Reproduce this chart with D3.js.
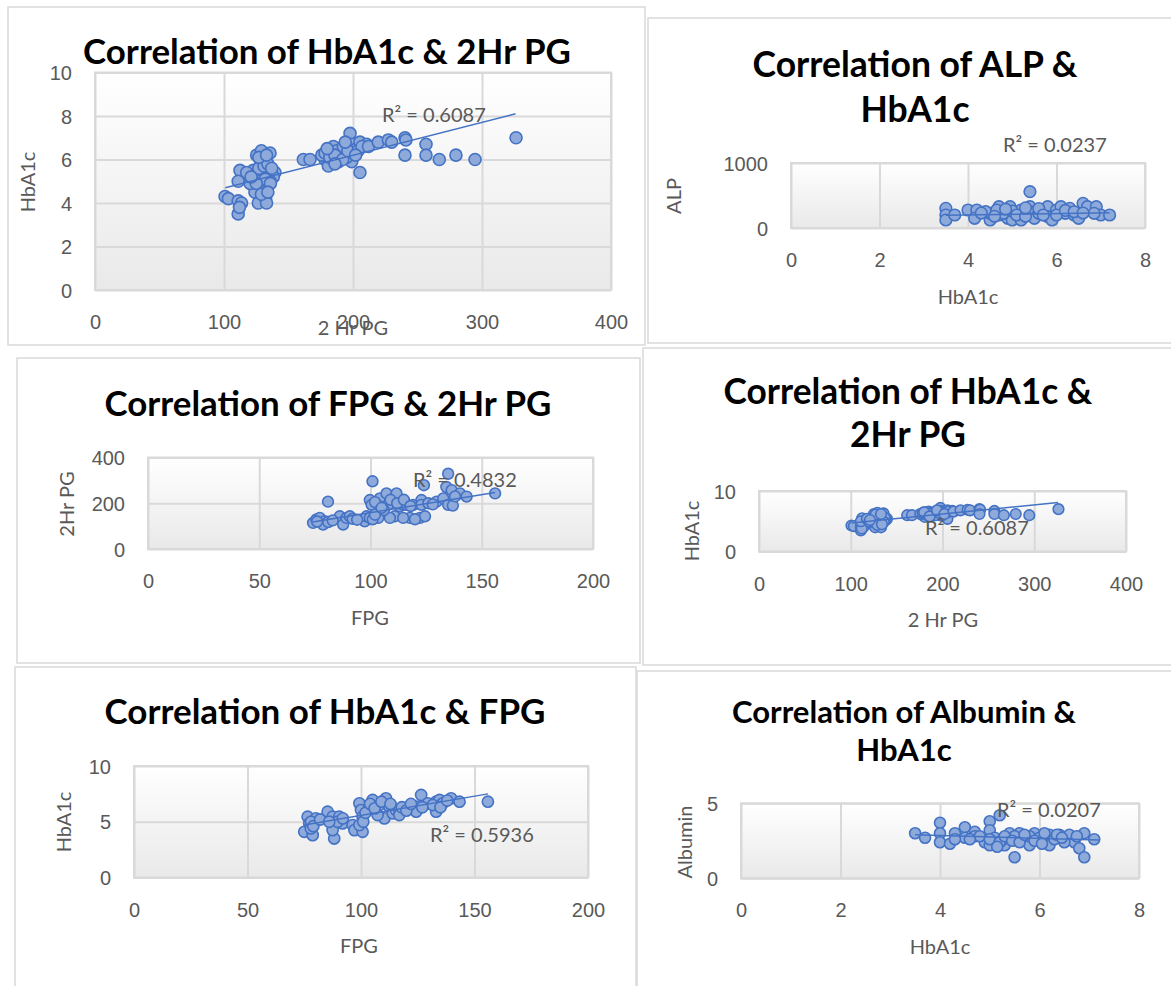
<!DOCTYPE html>
<html>
<head>
<meta charset="utf-8">
<script src="https://cdnjs.cloudflare.com/ajax/libs/d3/7.8.5/d3.min.js"></script>
<style>
  body { margin: 0; background: #fff; }
  svg { display: block; font-family: Lato, "Open Sans", sans-serif; }
</style>
</head>
<body>
<div id="chart"></div>
<script>
// values

// 2 Hr PG (x) vs HbA1c (y) - used twice
const pg2hHba1c = [
  [100.8, 4.3], [103.4, 4.2], [111, 4.1], [113.6, 4.0], [111, 3.5], [112, 3.8], [112.4, 5.5], [111, 5.0],
  [125.3, 6.2], [129, 6.4], [135.7, 6.3], [128, 6.0], [131.8, 5.9], [122.7, 5.5], [126.6, 5.4], [124, 5.1],
  [130.5, 5.4], [135.7, 5.5], [139.5, 5.4], [138.2, 5.2], [122.7, 4.8], [126.6, 4.7], [124, 4.5], [133, 4.9],
  [130.5, 4.6], [126.6, 4.0], [132.3, 4.2], [133, 4.0], [117.6, 5.4], [120.2, 4.9], [135.7, 5.0], [129.2, 5.2],
  [127, 5.6], [131, 5.7], [134, 5.8], [137, 5.6], [128, 5.0], [132, 5.1], [125, 4.9], [136, 4.9],
  [129, 4.4], [134, 4.5], [127, 6.1], [133, 6.2], [121, 5.2],
  [161.5, 6.0], [166.7, 6.0], [179.6, 6.4], [178.3, 6.0], [180.9, 5.7], [184.8, 6.6], [187.4, 6.4], [190, 6.1],
  [188.8, 5.9], [197.7, 7.2], [199, 6.7], [202.8, 6.5], [205.4, 6.8], [205.4, 5.4], [199, 5.9], [195, 6.1],
  [183.5, 6.2], [175.8, 6.2], [210.6, 6.7], [192.5, 6.6], [200.3, 6.3], [178.3, 6.3], [184.8, 6.0],
  [182, 6.1], [186, 6.2], [192, 6.0], [196, 6.4], [204, 6.4], [207, 6.6], [180, 6.5], [186, 5.8],
  [194, 6.8], [202, 6.2], [212, 6.6],
  [219.6, 6.8], [227.4, 6.9], [230, 6.8], [240.3, 7.0], [241, 6.9], [240.3, 6.2], [256.6, 6.7], [256.6, 6.2],
  [266.9, 6.0], [279.8, 6.2], [294.6, 6.0], [326.4, 7.0]
];
const trendPg2hHba1c = [[101, 4.7], [326, 8.1]];

// HbA1c (x) vs ALP (y)
const hba1cAlp = [
  [3.5, 303], [3.5, 200], [3.5, 123], [3.7, 200], [4.0, 277], [4.2, 277], [4.15, 149], [4.5, 123], [4.5, 226],
  [4.7, 328], [4.7, 200], [4.95, 328], [4.9, 149], [5.0, 123], [5.2, 277], [5.2, 123], [5.4, 559], [5.4, 328],
  [5.4, 251], [5.5, 149], [5.8, 328], [5.8, 174], [5.9, 123], [6.0, 277], [6.2, 226], [6.3, 303], [6.4, 200],
  [6.5, 149], [6.6, 380], [6.7, 328], [6.9, 328], [7.0, 200], [7.2, 200], [4.4, 251], [4.8, 226], [4.65, 277],
  [5.6, 226], [6.1, 328], [6.85, 226], [4.3, 230], [4.6, 180], [5.0, 260], [5.1, 200], [5.3, 180],
  [5.6, 300], [5.7, 200], [6.0, 200], [6.2, 270], [6.4, 250], [6.6, 230], [5.3, 310], [4.85, 290]
];
const trendHba1cAlp = [[3.5, 195], [7.2, 235]];

// FPG (x) vs 2 Hr PG (y)
const fpgPg2h = [
  [74.2, 114], [75.7, 129], [77.2, 136], [79.4, 121], [78.7, 107], [80.9, 207], [86.2, 143], [87.7, 107],
  [89.2, 136], [90.7, 143], [97.4, 121], [98.2, 143], [99.7, 136], [100.9, 296], [99.7, 214], [100.5, 193],
  [104.2, 221], [107.2, 243], [111.7, 243], [107.9, 193], [110.9, 143], [113.2, 186], [114.7, 193], [117.7, 136],
  [122.2, 136], [124.5, 143], [119.2, 193], [122.9, 214], [122.9, 193], [124, 279], [129.7, 207], [132.7, 221],
  [134.9, 193], [134.9, 329], [134.1, 271], [136.5, 257], [140.2, 243], [143.2, 229], [156, 243], [104.2, 186],
  [108.7, 136], [103.5, 136], [114.7, 136], [116.2, 193], [76, 120], [81, 118], [83, 125], [92, 132],
  [94, 128], [101, 130], [102, 150], [106, 170], [109, 215], [112, 200], [115, 215], [118, 188], [120, 130],
  [126, 200], [128, 195], [137, 190], [138, 230], [102, 205], [105, 180]
];
const trendFpgPg2h = [[74, 118], [156, 247]];

// FPG (x) vs HbA1c (y)
const fpgHba1c = [
  [75, 4.1], [76.5, 5.45], [77.2, 4.85], [78.7, 3.8], [80.1, 5.3], [77.9, 4.4], [85.3, 5.9], [87.5, 5.45],
  [88.2, 3.5], [87.5, 4.25], [90.4, 5.45], [91.9, 4.85], [89.7, 5.0], [96.3, 4.7], [97.1, 4.25], [100.7, 4.1],
  [99.3, 6.65], [100, 6.05], [100.7, 5.45], [99.3, 4.7], [105.1, 6.95], [108.1, 6.5], [111, 7.1], [110.3, 5.3],
  [112.5, 6.35], [114, 5.75], [115.4, 6.05], [116.9, 6.05], [121.3, 6.35], [124.3, 6.35], [124.3, 5.9],
  [126.5, 7.4], [129.4, 6.65], [133.1, 6.8], [133.1, 5.9], [134.6, 6.95], [136, 6.65], [139.7, 7.1],
  [143.4, 6.8], [155.9, 6.8], [103.6, 6.35], [107.3, 5.6], [116.9, 5.6], [131.6, 6.5],
  [78, 5.0], [79, 4.6], [82, 5.2], [86, 5.0], [92, 5.3], [101, 5.0], [102, 5.8], [104, 6.6], [106, 6.2],
  [109, 6.8], [113, 6.6], [118, 6.3], [120, 6.0], [122, 6.6], [127, 6.3], [135, 6.3], [138, 6.9]
];
const trendFpgHba1c = [[75, 4.7], [156, 7.5]];

// HbA1c (x) vs Albumin (y)
const hba1cAlbumin = [
  [3.5, 3.0], [3.7, 2.7], [4.0, 3.7], [4.0, 3.0], [4.0, 2.4], [4.2, 2.3], [4.3, 3.0], [4.5, 3.4], [4.5, 2.7],
  [4.7, 3.1], [4.7, 2.8], [5.0, 3.8], [5.0, 3.2], [5.2, 4.2], [4.9, 2.4], [5.0, 2.2], [5.1, 2.7], [5.4, 3.0],
  [5.3, 2.2], [5.5, 1.4], [5.6, 3.0], [5.7, 2.6], [5.8, 2.2], [5.9, 3.0], [6.0, 2.7], [6.2, 2.9], [6.2, 2.2],
  [6.4, 2.9], [6.6, 2.9], [6.7, 2.4], [6.8, 2.0], [6.9, 3.0], [6.9, 1.4], [7.1, 2.6], [4.8, 2.8], [5.25, 2.55],
  [5.5, 2.8], [6.1, 3.0], [5.8, 2.8], [6.5, 2.4], [5.0, 2.6], [5.2, 2.4], [5.3, 2.8], [5.45, 2.5], [5.6, 2.4],
  [5.7, 2.9], [5.9, 2.5], [6.05, 2.3], [6.3, 2.6], [6.35, 2.9], [6.45, 2.7], [6.75, 2.8], [5.15, 2.1],
  [4.6, 2.6], [4.3, 2.6]
];
const trendHba1cAlbumin = [[3.5, 2.9], [7.2, 2.55]];

// tick values
const ticksPg2h = [0, 100, 200, 300, 400];
const ticksFpg = [0, 50, 100, 150, 200];
const ticksHba1cX = [0, 2, 4, 6, 8];
const ticksHba1cTop = [0, 2, 4, 6, 8, 10];
const ticksHba1cSmall = [0, 10];
const ticksHba1cFive = [0, 5, 10];
const ticksAlp = [0, 1000];
const ticksPg2hY = [0, 200, 400];
const ticksAlbumin = [0, 5];

const r2Values = ['0.6087', '0.0237', '0.4832', '0.6087', '0.5936', '0.0207'];

const width = 1171;
const height = 986;

const svg = d3.select('#chart')
  .append('svg')
  .attr('width', width)
  .attr('height', height);

const grad = svg.append('defs').append('linearGradient')
  .attr('id', 'plotFill')
  .attr('x1', 0).attr('y1', 0).attr('x2', 0).attr('y2', 1);
grad.append('stop').attr('offset', '0%').attr('stop-color', '#ffffff');
grad.append('stop').attr('offset', '100%').attr('stop-color', '#e9e9e9');

// layout of each panel, in page pixels
const panels = [
  { frame: [8, 7, 637, 338], plot: [95, 611, 72.5, 290],
    xDomain: [0, 400], xTicks: ticksPg2h, yDomain: [0, 10], yTicks: ticksHba1cTop,
    title: ['Correlation of HbA1c & 2Hr PG'], titleX: 327, titleY: [52], titleW: 488,
    xLabel: '2 Hr PG', xLabelPos: [353, 328], yLabel: 'HbA1c', yLabelPos: [28, 182],
    r2: r2Values[0], r2Pos: [382, 115], points: pg2hHba1c, trend: trendPg2hHba1c, r: 6 },
  { frame: [648, 18, 530, 325], plot: [791, 1145, 163, 228],
    xDomain: [0, 8], xTicks: ticksHba1cX, yDomain: [0, 1000], yTicks: ticksAlp,
    title: ['Correlation of ALP &', 'HbA1c'], titleX: 915, titleY: [65, 110], titleW: 325,
    xLabel: 'HbA1c', xLabelPos: [968, 297], yLabel: 'ALP', yLabelPos: [674, 196],
    r2: r2Values[1], r2Pos: [1003, 145], points: hba1cAlp, trend: trendHba1cAlp, r: 5.8 },
  { frame: [17, 358, 623, 305], plot: [148, 593, 457.5, 549],
    xDomain: [0, 200], xTicks: ticksFpg, yDomain: [0, 400], yTicks: ticksPg2hY,
    title: ['Correlation of FPG & 2Hr PG'], titleX: 328, titleY: [404], titleW: 447,
    xLabel: 'FPG', xLabelPos: [370, 618], yLabel: '2Hr PG', yLabelPos: [67, 504],
    r2: r2Values[2], r2Pos: [413, 480], points: fpgPg2h, trend: trendFpgPg2h, r: 5.4 },
  { frame: [643, 348, 535, 317], plot: [759, 1126, 491, 551.5],
    xDomain: [0, 400], xTicks: ticksPg2h, yDomain: [0, 10], yTicks: ticksHba1cSmall,
    title: ['Correlation of HbA1c &', '2Hr PG'], titleX: 908, titleY: [392, 435], titleW: 369,
    xLabel: '2 Hr PG', xLabelPos: [943, 620], yLabel: 'HbA1c', yLabelPos: [692, 531],
    r2: r2Values[3], r2Pos: [925, 528], points: pg2hHba1c, trend: trendPg2hHba1c, r: 5.3 },
  { frame: [15, 667, 621, 330], plot: [134, 588, 766, 877.5],
    xDomain: [0, 200], xTicks: ticksFpg, yDomain: [0, 10], yTicks: ticksHba1cFive,
    title: ['Correlation of HbA1c & FPG'], titleX: 325, titleY: [712], titleW: 441,
    xLabel: 'FPG', xLabelPos: [359, 946], yLabel: 'HbA1c', yLabelPos: [64, 822],
    r2: r2Values[4], r2Pos: [430, 835], points: fpgHba1c, trend: trendFpgHba1c, r: 5.6 },
  { frame: [637, 671, 540, 330], plot: [741, 1139, 803.3, 878.3],
    xDomain: [0, 8], xTicks: ticksHba1cX, yDomain: [0, 5], yTicks: ticksAlbumin,
    title: ['Correlation of Albumin &', 'HbA1c'], titleX: 904, titleY: [712, 750], titleW: 344,
    xLabel: 'HbA1c', xLabelPos: [940, 947], yLabel: 'Albumin', yLabelPos: [685, 842],
    r2: r2Values[5], r2Pos: [997, 810], points: hba1cAlbumin, trend: trendHba1cAlbumin, r: 5.5 }
];

const gray = '#595959';
const gridColor = '#d9d9d9';

const drawPanel = (p) => {
  const [fx, fy, fw, fh] = p.frame;
  const [x0, x1, y0, y1] = p.plot;

  svg.append('rect')
    .attr('x', fx).attr('y', fy).attr('width', fw).attr('height', fh)
    .attr('fill', '#fff')
    .attr('stroke', gridColor)
    .attr('stroke-width', 1.5);

  const xScale = d3.scaleLinear().domain(p.xDomain).range([x0, x1]);
  const yScale = d3.scaleLinear().domain(p.yDomain).range([y1, y0]);

  svg.append('rect')
    .attr('x', x0).attr('y', y0).attr('width', x1 - x0).attr('height', y1 - y0)
    .attr('fill', 'url(#plotFill)');

  // gridlines + tick labels
  svg.append('g')
    .attr('transform', `translate(0,${y1})`)
    .call(d3.axisBottom(xScale).tickValues(p.xTicks).tickSize(-(y1 - y0)).tickFormat(d3.format('d')))
    .call(g => g.select('.domain').remove())
    .call(g => g.selectAll('line').attr('stroke', gridColor).attr('stroke-width', 2))
    .call(g => g.selectAll('text')
      .attr('y', 32).attr('dy', '0.35em')
      .attr('fill', gray).style('font-size', '20px'));

  svg.append('g')
    .attr('transform', `translate(${x0},0)`)
    .call(d3.axisLeft(yScale).tickValues(p.yTicks).tickSize(-(x1 - x0)).tickFormat(d3.format('d')))
    .call(g => g.select('.domain').remove())
    .call(g => g.selectAll('line').attr('stroke', gridColor).attr('stroke-width', 2))
    .call(g => g.selectAll('text')
      .attr('x', -23).attr('dy', '0.35em')
      .attr('fill', gray).style('font-size', '20px'));

  svg.append('rect')
    .attr('x', x0).attr('y', y0).attr('width', x1 - x0).attr('height', y1 - y0)
    .attr('fill', 'none')
    .attr('stroke', gridColor)
    .attr('stroke-width', 2);

  svg.append('g')
    .selectAll('circle')
    .data(p.points)
    .enter()
    .append('circle')
    .attr('cx', d => xScale(d[0]))
    .attr('cy', d => yScale(d[1]))
    .attr('r', p.r)
    .attr('fill', '#8eaadb')
    .attr('stroke', '#4472c4')
    .attr('stroke-width', 1.6);

  svg.append('path')
    .datum(p.trend)
    .attr('d', d3.line().x(d => xScale(d[0])).y(d => yScale(d[1])))
    .attr('fill', 'none')
    .attr('stroke', '#4472c4')
    .attr('stroke-width', 1.5);

  svg.append('text')
    .attr('x', p.r2Pos[0])
    .attr('y', p.r2Pos[1])
    .attr('dy', '0.35em')
    .attr('fill', gray)
    .style('font-size', '20px')
    .text(`R² = ${p.r2}`);

  // title, font size fitted to the width of the first line
  const titleText = svg.append('g')
    .selectAll('text')
    .data(p.title)
    .enter()
    .append('text')
    .attr('x', p.titleX)
    .attr('y', (d, i) => p.titleY[i])
    .attr('dy', '0.35em')
    .attr('text-anchor', 'middle')
    .attr('font-weight', 700)
    .attr('fill', '#000')
    .style('font-size', '30px')
    .text(d => d);
  const firstW = titleText.node().getComputedTextLength();
  titleText.style('font-size', `${(30 * p.titleW / firstW).toFixed(2)}px`);

  svg.append('text')
    .attr('x', p.xLabelPos[0])
    .attr('y', p.xLabelPos[1])
    .attr('dy', '0.35em')
    .attr('text-anchor', 'middle')
    .attr('fill', gray)
    .style('font-size', '20px')
    .text(p.xLabel);

  svg.append('text')
    .attr('transform', `translate(${p.yLabelPos[0]},${p.yLabelPos[1]}) rotate(-90)`)
    .attr('dy', '0.35em')
    .attr('text-anchor', 'middle')
    .attr('fill', gray)
    .style('font-size', '20px')
    .text(p.yLabel);
};

panels.forEach(drawPanel);
</script>
</body>
</html>
